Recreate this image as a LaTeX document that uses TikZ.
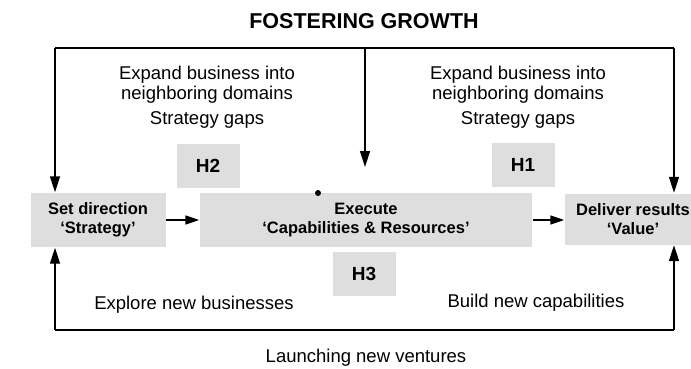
\documentclass[tikz,border=0pt]{standalone}
\usepackage{fontspec}
\setmainfont{Liberation Sans}
\usetikzlibrary{arrows.meta}

\begin{document}
\begin{tikzpicture}[x=1pt,y=-1pt,line width=1.4pt,
    tipv/.style={-{Triangle[length=16pt,width=10pt]}},
    tiph/.style={-{Triangle[length=14pt,width=9pt]}}]
  \useasboundingbox (0,0) rectangle (691,369);

  \node[font=\bfseries\fontsize{21.5}{24}\selectfont] (title) at (364,21) {FOSTERING GROWTH};

  % boxes
  \begin{scope}[every node/.style={fill=black!13,align=center,minimum height=54pt,
      font=\bfseries\fontsize{16.5}{19}\selectfont}]
    \node[minimum width=135pt] (setdir)  at (98,220)  {Set direction\\`Strategy'};
    \node[minimum width=332pt] (execute) at (366,220) {Execute\\`Capabilities \& Resources'};
    \node[minimum width=136pt,minimum height=51pt] (deliver) at (633,219) {Deliver results\\`Value'};
  \end{scope}

  \begin{scope}[every node/.style={fill=black!13,minimum width=63pt,minimum height=44pt,
      font=\bfseries\fontsize{19}{22}\selectfont}]
    \node (h2) at (208,166) {H2};
    \node (h1) at (523,165) {H1};
    \node (h3) at (364,274) {H3};
  \end{scope}

  % texts
  \begin{scope}[every node/.style={align=center,font=\fontsize{18.5}{20}\selectfont}]
    \node (expl) at (207,85)  {Expand business into\\neighboring domains};
    \node (gapl) at (207,120) {Strategy gaps};
    \node (expr) at (518,85)  {Expand business into\\neighboring domains};
    \node (gapr) at (518,120) {Strategy gaps};
    \node (explore) at (194,305) {Explore new businesses};
    \node (build)   at (536,303) {Build new capabilities};
    \node (launch)  at (366,358) {Launching new ventures};
  \end{scope}

  \fill (318,193) circle (3pt);

  % frame
  \coordinate (tl) at (55,48);
  \coordinate (tm) at (365,48);
  \coordinate (tr) at (674,48);
  \coordinate (mtip) at (365,167);
  \coordinate (bl) at (55,330);
  \coordinate (br) at (674,330);

  \draw (tl) -- (tr);
  \draw (bl) -- (br);
  \draw[tipv] (tl) -- (tl |- setdir.north);
  \draw[tipv] (tm) -- (mtip);
  \draw[tipv] (tr) -- (tr |- deliver.north);
  \draw[tipv] (bl) -- (bl |- setdir.south);
  \draw[tipv] (br) -- (br |- deliver.south);

  \path (setdir)  edge[tiph] (execute);
  \path (execute.east) edge[tiph] (execute.east -| deliver.west);

\end{tikzpicture}
\end{document}
